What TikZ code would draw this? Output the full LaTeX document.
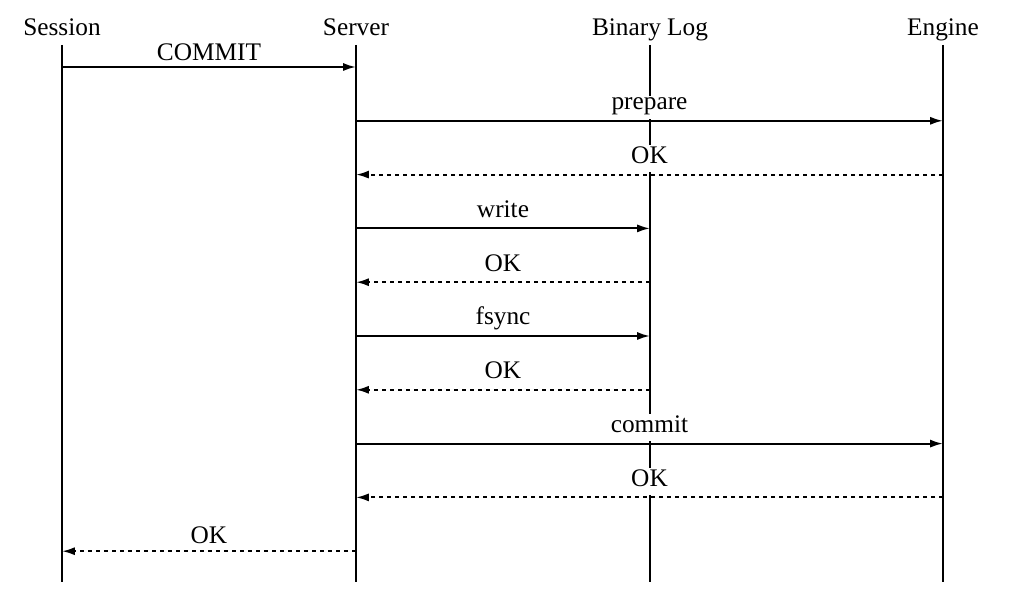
\documentclass[tikz,border=0pt]{standalone}
\usepackage{fontspec}
\setmainfont{Liberation Serif}
\usetikzlibrary{arrows.meta, calc}

\begin{document}
\begin{tikzpicture}[x=0.025cm, y=-0.025cm, >={Latex[length=3.2mm,width=2mm]},
  actor/.style={font=\fontsize{18}{20}\selectfont, inner sep=1pt, anchor=base},
  lifeline/.style={line width=1.4pt},
  call/.style={->, line width=1.4pt},
  reply/.style={->, line width=1.4pt, dash pattern=on 1mm off 1mm},
  msglabel/.style={midway, above=0.8pt, fill=white, font=\fontsize{18}{20}\selectfont, inner sep=1pt, text depth=5.4pt}]

  \useasboundingbox (0,0) rectangle (1028,602);

  % Teilnehmer
  \node[actor] (session) at (62,36)  {Session};
  \node[actor] (server)  at (356,36) {Server};
  \node[actor] (binlog)  at (650,36) {Binary Log};
  \node[actor] (engine)  at (943,36) {Engine};

  % Lebenslinien + Punkte fuer die Nachrichten
  \foreach \who/\x in {session/62, server/356, binlog/650, engine/943} {
    \draw[lifeline] (\x,45) -- (\x,582);
    \foreach \i in {1,...,10}
      \coordinate (\who-\i) at (\x, {67 + (\i-1)*53.8});
  }

  % Nachrichten
  \draw[call]  (session-1) -- (server-1)  node[msglabel, text depth=2pt] {COMMIT};
  \draw[call]  (server-2)  -- (engine-2)  node[msglabel] {prepare};
  \draw[reply] (engine-3)  -- (server-3)  node[msglabel] {OK};
  \draw[call]  (server-4)  -- (binlog-4)  node[msglabel] {write};
  \draw[reply] (binlog-5)  -- (server-5)  node[msglabel] {OK};
  \draw[call]  (server-6)  -- (binlog-6)  node[msglabel] {fsync};
  \draw[reply] (binlog-7)  -- (server-7)  node[msglabel] {OK};
  \draw[call]  (server-8)  -- (engine-8)  node[msglabel] {commit};
  \draw[reply] (engine-9)  -- (server-9)  node[msglabel] {OK};
  \draw[reply] (server-10) -- (session-10) node[msglabel, text depth=2.8pt] {OK};

\end{tikzpicture}
\end{document}
